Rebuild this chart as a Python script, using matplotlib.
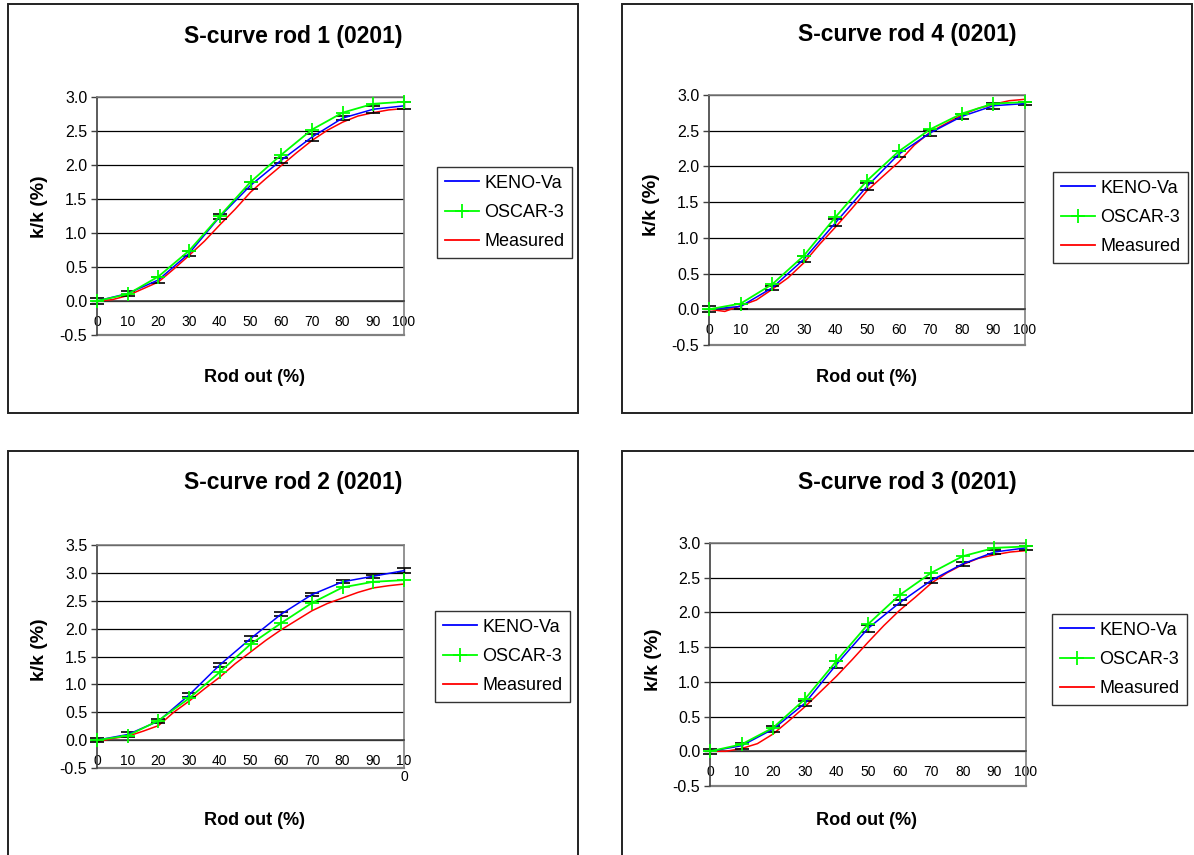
import matplotlib
matplotlib.use("Agg")
import matplotlib.pyplot as plt
from matplotlib.lines import Line2D
from matplotlib.patches import Rectangle
import numpy as np

plt.rcParams['font.family'] = ['Liberation Sans', 'DejaVu Sans']

W, H = 1194, 855

# ---------------- data ----------------
x_calc = [0, 10, 20, 30, 40, 50, 60, 70, 80, 90, 100]
x_meas = [0, 5, 10, 15, 20, 25, 30, 35, 40, 45, 50, 55, 60, 65, 70, 75, 80, 85, 90, 95, 100]
x_ticklabels = ["0", "10", "20", "30", "40", "50", "60", "70", "80", "90", "100"]
x_ticklabels_rod2 = ["0", "10", "20", "30", "40", "50", "60", "70", "80", "90", "10\n0"]

titles = ["S-curve rod 1 (0201)", "S-curve rod 4 (0201)",
          "S-curve rod 2 (0201)", "S-curve rod 3 (0201)"]
series_names = ["KENO-Va", "OSCAR-3", "Measured"]

# rod 1
keno_r1 = [0.00, 0.11, 0.31, 0.70, 1.24, 1.70, 2.07, 2.41, 2.69, 2.82, 2.87]
keno_err_r1 = [0.04, 0.04, 0.04, 0.04, 0.04, 0.05, 0.04, 0.05, 0.03, 0.05, 0.05]
oscar_r1 = [0.00, 0.10, 0.36, 0.74, 1.25, 1.75, 2.15, 2.52, 2.77, 2.90, 2.93]
meas_r1 = [0.00, 0.02, 0.08, 0.18, 0.28, 0.47, 0.67, 0.88, 1.12, 1.35, 1.60,
           1.80, 1.99, 2.18, 2.36, 2.51, 2.63, 2.72, 2.77, 2.81, 2.83]

# rod 4
keno_r4 = [0.00, 0.04, 0.30, 0.70, 1.21, 1.72, 2.17, 2.47, 2.70, 2.85, 2.88]
keno_err_r4 = [0.04, 0.04, 0.03, 0.04, 0.05, 0.05, 0.04, 0.04, 0.04, 0.04, 0.02]
oscar_r4 = [0.00, 0.08, 0.35, 0.75, 1.29, 1.80, 2.21, 2.52, 2.74, 2.88, 2.90]
meas_r4 = [0.00, -0.03, 0.05, 0.13, 0.28, 0.44, 0.65, 0.91, 1.15, 1.40, 1.66,
           1.86, 2.06, 2.30, 2.48, 2.60, 2.72, 2.81, 2.87, 2.92, 2.94]

# rod 2
keno_r2 = [0.00, 0.10, 0.34, 0.81, 1.35, 1.82, 2.26, 2.61, 2.84, 2.94, 3.04]
keno_err_r2 = [0.04, 0.04, 0.03, 0.04, 0.04, 0.04, 0.04, 0.03, 0.03, 0.03, 0.04]
oscar_r2 = [0.00, 0.08, 0.35, 0.75, 1.22, 1.72, 2.10, 2.46, 2.74, 2.84, 2.87]
meas_r2 = [-0.03, 0.03, 0.07, 0.16, 0.26, 0.50, 0.70, 0.92, 1.13, 1.37, 1.58,
           1.79, 1.98, 2.15, 2.32, 2.45, 2.55, 2.65, 2.73, 2.77, 2.80]

# rod 3
keno_r3 = [0.00, 0.08, 0.32, 0.69, 1.25, 1.77, 2.14, 2.46, 2.70, 2.87, 2.93]
keno_err_r3 = [0.04, 0.04, 0.04, 0.04, 0.05, 0.05, 0.04, 0.04, 0.03, 0.03, 0.03]
oscar_r3 = [0.00, 0.10, 0.34, 0.75, 1.30, 1.83, 2.25, 2.57, 2.81, 2.93, 2.95]
meas_r3 = [0.00, 0.00, 0.04, 0.11, 0.25, 0.44, 0.64, 0.86, 1.08, 1.32, 1.57,
           1.81, 2.03, 2.22, 2.42, 2.57, 2.69, 2.78, 2.83, 2.87, 2.89]

# ---------------- layout (pixels) ----------------
panels = [
    dict(title=titles[0], keno=keno_r1, err=keno_err_r1, oscar=oscar_r1, meas=meas_r1,
         ylim=(-0.5, 3.0), xt=x_ticklabels,
         ax=(97, 97, 404, 335), frame=(8, 4, 578, 413), leg=(437, 167),
         tpos=(293, 37), ylab=(40, 207), xlab=(255, 377)),
    dict(title=titles[1], keno=keno_r4, err=keno_err_r4, oscar=oscar_r4, meas=meas_r4,
         ylim=(-0.5, 3.0), xt=x_ticklabels,
         ax=(709, 95, 1025, 345), frame=(622, 4, 1192, 413), leg=(1053, 172),
         tpos=(907, 35), ylab=(651, 205), xlab=(866, 377)),
    dict(title=titles[2], keno=keno_r2, err=keno_err_r2, oscar=oscar_r2, meas=meas_r2,
         ylim=(-0.5, 3.5), xt=x_ticklabels_rod2,
         ax=(97, 545, 404, 768), frame=(8, 451, 578, 862), leg=(435, 611),
         tpos=(293, 482), ylab=(40, 650), xlab=(255, 820)),
    dict(title=titles[3], keno=keno_r3, err=keno_err_r3, oscar=oscar_r3, meas=meas_r3,
         ylim=(-0.5, 3.0), xt=x_ticklabels,
         ax=(710, 543, 1026, 786), frame=(622, 451, 1200, 862), leg=(1052, 614),
         tpos=(907, 482), ylab=(653, 660), xlab=(866, 820)),
]

fig = plt.figure(figsize=(W / 100, H / 100), dpi=100)
fig.patch.set_facecolor('white')

def fx(x):
    return x / W

def fy(y):
    return 1 - y / H

GRAY = '#808080'

for p in panels:
    x0, y0, x1, y1 = p['frame']
    fig.patches.append(Rectangle((fx(x0), fy(y1)), fx(x1 - x0), (y1 - y0) / H,
                                 transform=fig.transFigure, fill=False,
                                 edgecolor='#222222', linewidth=1.4))
    ax0, ay0, ax1, ay1 = p['ax']
    ax = fig.add_axes([fx(ax0), fy(ay1), fx(ax1 - ax0), (ay1 - ay0) / H])
    ax.set_xlim(0, 100)
    ax.set_ylim(*p['ylim'])

    ax.plot(x_meas, p['meas'], color='#ff0000', lw=1.1, clip_on=False, zorder=3)
    ax.errorbar(x_calc, p['keno'], yerr=p['err'], fmt='none', ecolor='black',
                elinewidth=1.0, capsize=5, capthick=1.2, zorder=4, clip_on=False)
    ax.plot(x_calc, p['keno'], color='#0000ff', lw=1.1, clip_on=False, zorder=4)
    ax.plot(x_calc, p['oscar'], color='#00ff00', lw=1.3, marker='+',
            markersize=10, markeredgewidth=1.3, clip_on=False, zorder=5)

    yt = np.arange(p['ylim'][0], p['ylim'][1] + 0.001, 0.5)
    ax.set_yticks(yt)
    ax.set_yticklabels([f"{v:.1f}" for v in yt], fontsize=11.5)
    ax.set_xticks(x_calc)
    ax.set_xticklabels(p['xt'], fontsize=12, linespacing=1.7)
    ax.tick_params(axis='y', direction='out', length=4, width=1, color='#404040', pad=3)
    ax.tick_params(axis='x', length=0, pad=10)

    ax.set_axisbelow(True)
    ax.yaxis.grid(True, color='black', lw=0.9)
    for s in ['top', 'right']:
        ax.spines[s].set_color(GRAY)
        ax.spines[s].set_linewidth(1.2)
    ax.spines['left'].set_color('#404040')
    ax.spines['left'].set_linewidth(1.2)
    ax.spines['bottom'].set_position(('data', 0))
    ax.spines['bottom'].set_color('#404040')
    ax.spines['bottom'].set_linewidth(1.2)
    ax.axhline(p['ylim'][0], color=GRAY, lw=1.6, clip_on=False, zorder=2)

    fig.text(fx(p['tpos'][0]), fy(p['tpos'][1]), p['title'], ha='center', va='center',
             fontsize=16.5, fontweight='bold')
    fig.text(fx(p['ylab'][0]), fy(p['ylab'][1]), "k/k (%)", ha='center', va='center',
             rotation=90, fontsize=14, fontweight='bold')
    fig.text(fx(p['xlab'][0]), fy(p['xlab'][1]), "Rod out (%)", ha='center', va='center',
             fontsize=13, fontweight='bold')

    handles = [Line2D([], [], color='#0000ff', lw=1.3),
               Line2D([], [], color='#00ff00', lw=1.3, marker='+', markersize=10,
                      markeredgewidth=1.3),
               Line2D([], [], color='#ff0000', lw=1.3)]
    leg = ax.legend(handles, series_names, loc='upper left',
                    bbox_to_anchor=(fx(p['leg'][0]), fy(p['leg'][1])),
                    bbox_transform=fig.transFigure, fontsize=13, frameon=True,
                    fancybox=False, edgecolor='black', borderaxespad=0,
                    handlelength=1.9, handletextpad=0.3, labelspacing=0.68,
                    borderpad=0.42, markerscale=1.0)
    leg.get_frame().set_linewidth(1.0)

fig.savefig("out.png", dpi=100, facecolor='white')
